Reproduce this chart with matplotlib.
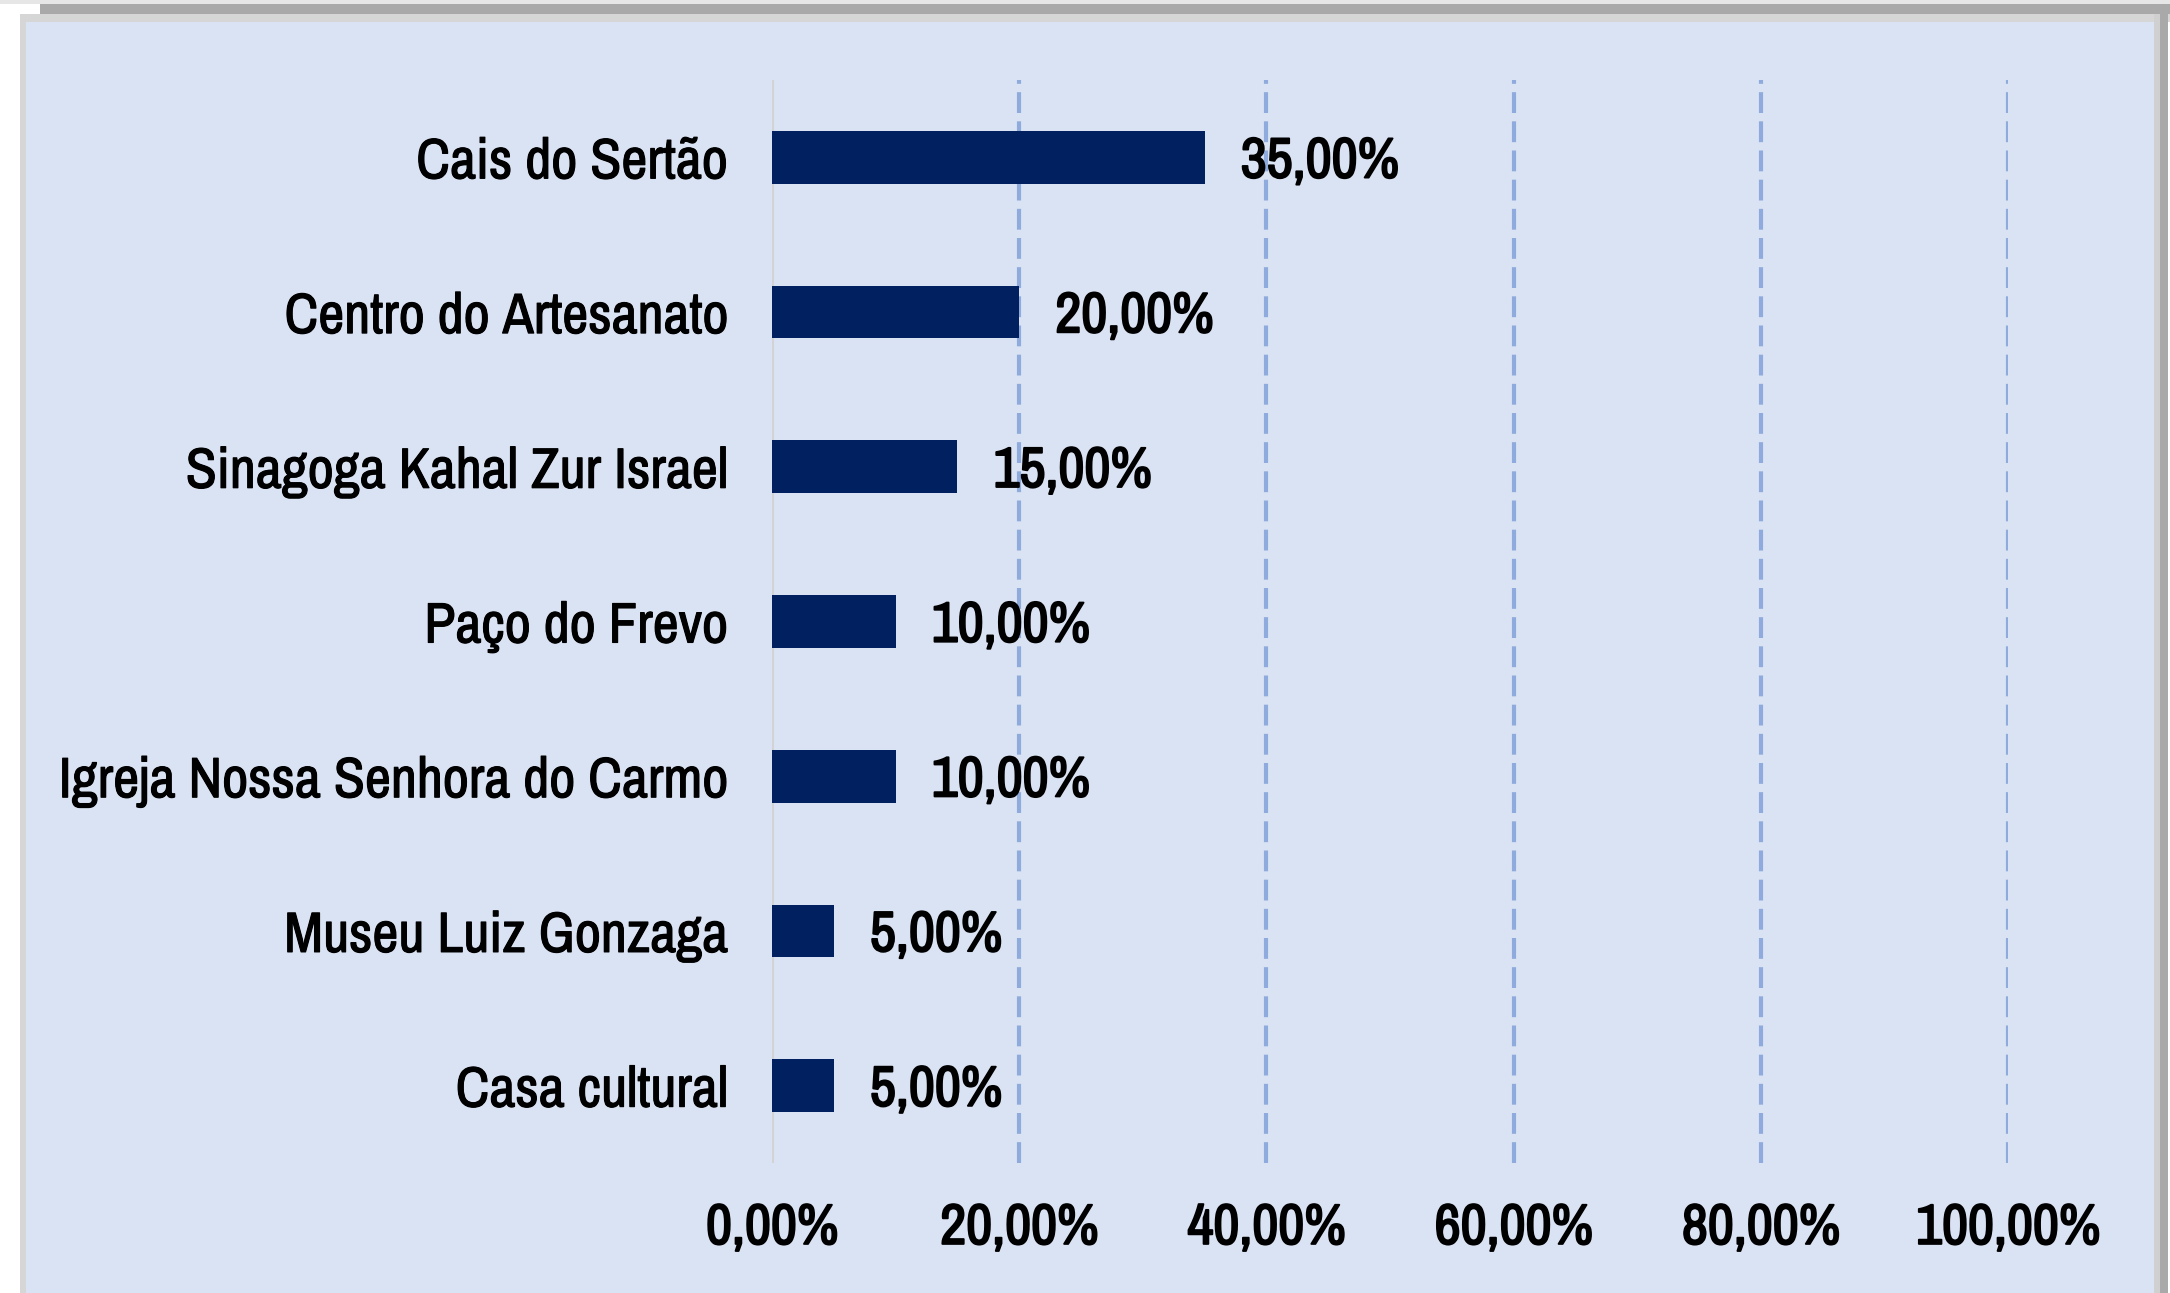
import matplotlib
matplotlib.use("Agg")
import matplotlib.pyplot as plt
import matplotlib.font_manager as fm
import matplotlib.patheffects as pe
from matplotlib.patches import Rectangle
from matplotlib.ticker import FuncFormatter

categories = ["Cais do Sertão", "Centro do Artesanato", "Sinagoga Kahal Zur Israel",
              "Paço do Frevo", "Igreja Nossa Senhora do Carmo", "Museu Luiz Gonzaga",
              "Casa cultural"]
values = [0.35, 0.20, 0.15, 0.10, 0.10, 0.05, 0.05]
xticks = [0.0, 0.2, 0.4, 0.6, 0.8, 1.0]

W, H = 2170, 1293

# narrow font like Arial Narrow, take the first one installed
narrow = "DejaVu Sans"
for name in ["Liberation Sans Narrow", "Archivo Narrow", "Roboto Condensed", "Sofia Sans Condensed"]:
    try:
        fm.findfont(fm.FontProperties(family=name), fallback_to_default=False)
        narrow = name
        break
    except ValueError:
        pass
plt.rcParams["font.family"] = [narrow, "DejaVu Sans"]
FS = 41
# no bold in the narrow font, so thicken strokes a bit
heavy = [pe.withStroke(linewidth=1.4, foreground="black")]
medium = [pe.withStroke(linewidth=0.8, foreground="black")]

fig = plt.figure(figsize=(W / 100, H / 100), dpi=100, facecolor="white")


def px_rect(x0, y0, x1, y1, color):
    # rectangle given in pixel coords (origin top-left)
    fig.add_artist(Rectangle((x0 / W, 1 - y1 / H), (x1 - x0) / W, (y1 - y0) / H,
                             transform=fig.transFigure, facecolor=color,
                             edgecolor="none", zorder=0))


# frame shadow
px_rect(0, 0, W, 4, "#e6e6e6")
px_rect(40, 4, W, 14, "#a9a9a9")
px_rect(20, 14, W, 22, "#d6d6d6")
px_rect(20, 14, 26, H, "#d6d6d6")
px_rect(2154, 14, 2168, H, "#d0d0d0")
px_rect(2160, 4, 2168, H, "#a9a9a9")
px_rect(26, 22, 2154, H, "#dae3f3")

ax = fig.add_axes([772 / W, 1 - 1163 / H, 1236 / W, 1083 / H])
ax.set_facecolor("none")

y = list(range(len(categories)))
ax.barh(y, values, height=0.34, color="#002060", zorder=3)
ax.set_ylim(len(categories) - 0.5, -0.5)
ax.set_xlim(0, 1.0)

ax.set_yticks(y)
ax.set_yticklabels(categories, fontsize=FS)
for lab in ax.get_yticklabels():
    lab.set_path_effects(medium)
ax.set_xticks(xticks)
ax.xaxis.set_major_formatter(FuncFormatter(lambda v, p: f"{v * 100:.2f}%".replace(".", ",")))
for lab in ax.get_xticklabels():
    lab.set_fontsize(FS)
    lab.set_path_effects(heavy)
ax.tick_params(axis="both", length=0)
ax.tick_params(axis="y", pad=32)
ax.tick_params(axis="x", pad=28)

for v in xticks[1:]:
    ax.axvline(v, color="#8faadc", lw=3, dashes=(5, 2), zorder=1)
ax.axvline(0, color="#d3d3d3", lw=2.2, zorder=2)

for s in ax.spines.values():
    s.set_visible(False)

for yi, v in zip(y, values):
    ax.annotate(f"{v * 100:.2f}%".replace(".", ","), (v, yi), xytext=(26, -3),
                textcoords="offset points", va="center", ha="left",
                fontsize=FS, zorder=4, path_effects=heavy)

fig.savefig("out.png", dpi=100, facecolor=fig.get_facecolor())
